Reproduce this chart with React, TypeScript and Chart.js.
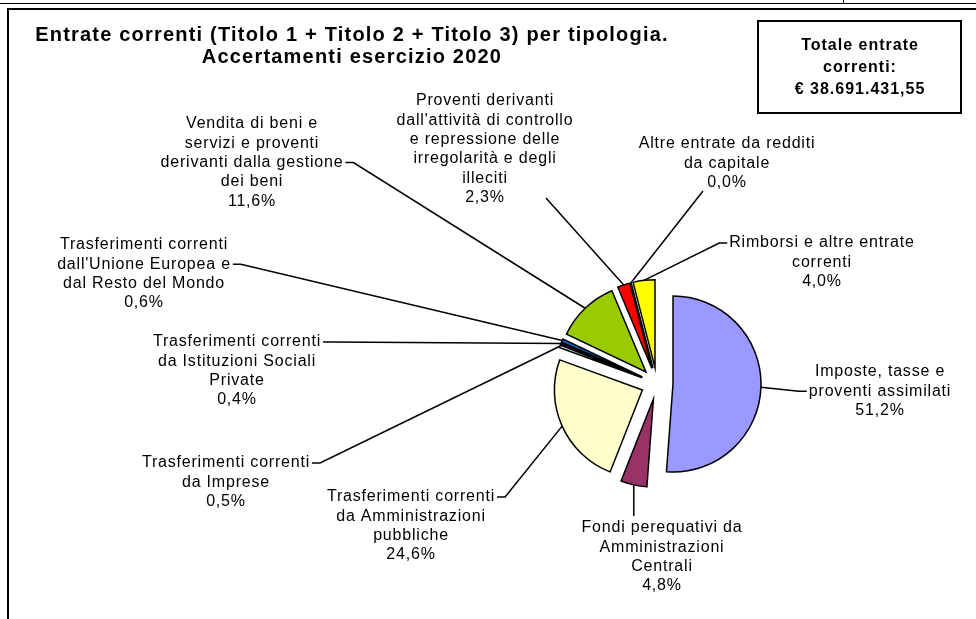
import React, { useEffect, useRef } from "react";
import { Chart, registerables } from "chart.js";

Chart.register(...registerables);

const W = 976;
const H = 619;

// ---- data ----
const categories: string[][] = [
  ["Imposte, tasse e", "proventi assimilati"],
  ["Fondi perequativi da", "Amministrazioni", "Centrali"],
  ["Trasferimenti correnti", "da Amministrazioni", "pubbliche"],
  ["Trasferimenti correnti", "da Imprese"],
  ["Trasferimenti correnti", "da Istituzioni Sociali", "Private"],
  ["Trasferimenti correnti", "dall'Unione Europea e", "dal Resto del Mondo"],
  ["Vendita di beni e", "servizi e proventi", "derivanti dalla gestione", "dei beni"],
  ["Proventi derivanti", "dall'attività di controllo", "e repressione delle", "irregolarità e degli", "illeciti"],
  ["Altre entrate da redditi", "da capitale"],
  ["Rimborsi e altre entrate", "correnti"],
];
const shares = [51.2, 4.8, 24.6, 0.5, 0.4, 0.6, 11.6, 2.3, 0.03, 4.0];
const sliceColors = ["#9999FF", "#993366", "#FFFFCC", "#CCFFFF", "#660066", "#0066CC", "#99CC00", "#FF0000", "#000080", "#FFFF00"];

const titleLines = ["Entrate correnti (Titolo 1 + Titolo 2 + Titolo 3) per tipologia.", "Accertamenti esercizio 2020"];
const totalLines = ["Totale entrate", "correnti:", "€ 38.691.431,55"];

// ---- layout ----
const CENTER = { x: 657, y: 383.5 };
const RADIUS = 88;
const EXPLODE = 16;
const LH = 19.3;
const FONT = '"Liberation Sans", Arial, sans-serif';

type LabelSpec = { x: number; y: number; anchor: "left" | "right" | "top" | "point"; line?: number; px?: number; py?: number };
const labelLayout: LabelSpec[] = [
  { x: 880, y: 372, anchor: "left", line: 1 },
  { x: 662, y: 528, anchor: "top" },
  { x: 411, y: 497, anchor: "right", line: 0 },
  { x: 226, y: 463, anchor: "right", line: 0 },
  { x: 237, y: 342, anchor: "right", line: 0 },
  { x: 144, y: 245, anchor: "right", line: 1 },
  { x: 252, y: 124, anchor: "right", line: 2 },
  { x: 485, y: 101, anchor: "point", px: 546, py: 198 },
  { x: 727, y: 144, anchor: "point", px: 703, py: 191 },
  { x: 822, y: 243, anchor: "left", line: 0 },
];

const fmtPct = (v: number) => v.toFixed(1).replace(".", ",") + "%";

const explodePlugin = {
  id: "explode",
  beforeDatasetDraw(chart: any, args: any) {
    const ctx = chart.ctx;
    args.meta.data.forEach((arc: any) => {
      const mid = (arc.startAngle + arc.endAngle) / 2;
      ctx.save();
      ctx.translate(Math.cos(mid) * EXPLODE, Math.sin(mid) * EXPLODE);
      arc.draw(ctx);
      ctx.restore();
    });
    return false;
  },
};

const decorPlugin = {
  id: "decor",
  beforeDraw(chart: any) {
    const ctx = chart.ctx;
    ctx.save();
    ctx.fillStyle = "#fff";
    ctx.fillRect(0, 0, W, H);
    ctx.strokeStyle = "#000";
    // top page lines
    ctx.lineWidth = 1;
    ctx.beginPath();
    ctx.moveTo(0, 3.5);
    ctx.lineTo(W, 3.5);
    ctx.moveTo(843.5, 0);
    ctx.lineTo(843.5, 3.5);
    ctx.stroke();
    // chart frame
    ctx.lineWidth = 2;
    ctx.beginPath();
    ctx.moveTo(W + 5, 9);
    ctx.lineTo(8, 9);
    ctx.lineTo(8, H + 5);
    ctx.stroke();
    // title
    ctx.fillStyle = "#000";
    ctx.textAlign = "center";
    ctx.textBaseline = "middle";
    ctx.font = `bold 20px ${FONT}`;
    (ctx as any).letterSpacing = "1.2px";
    titleLines.forEach((t, i) => ctx.fillText(t, 352, 35 + i * 22));
    // total box
    ctx.lineWidth = 2;
    ctx.strokeRect(758, 21, 203, 92);
    ctx.font = `bold 16px ${FONT}`;
    (ctx as any).letterSpacing = "1px";
    totalLines.forEach((t, i) => ctx.fillText(t, 860, 46 + i * 22));
    ctx.restore();
  },
  afterDraw(chart: any) {
    const ctx = chart.ctx;
    const meta = chart.getDatasetMeta(0);
    ctx.save();
    ctx.fillStyle = "#000";
    ctx.strokeStyle = "#000";
    ctx.textAlign = "center";
    ctx.textBaseline = "middle";
    ctx.font = `16px ${FONT}`;
    (ctx as any).letterSpacing = "0.8px";
    ctx.lineWidth = 1.5;
    meta.data.forEach((arc: any, i: number) => {
      const spec = labelLayout[i];
      const lines = [...categories[i], fmtPct(shares[i])];
      lines.forEach((t, k) => ctx.fillText(t, spec.x, spec.y + k * LH));
      const mid = (arc.startAngle + arc.endAngle) / 2;
      const r = arc.outerRadius + EXPLODE;
      const ex = arc.x + Math.cos(mid) * r;
      const ey = arc.y + Math.sin(mid) * r;
      ctx.beginPath();
      if (spec.anchor === "top") {
        ctx.moveTo(ex, ey);
        ctx.lineTo(ex, spec.y - 12);
      } else if (spec.anchor === "point") {
        ctx.moveTo(spec.px!, spec.py!);
        ctx.lineTo(ex, ey);
      } else {
        const ln = spec.line || 0;
        const w = ctx.measureText(lines[ln]).width;
        const ly = spec.y + ln * LH;
        if (spec.anchor === "right") {
          const sx = spec.x + w / 2 + 2;
          ctx.moveTo(sx, ly);
          ctx.lineTo(sx + 8, ly);
        } else {
          const sx = spec.x - w / 2 - 2;
          ctx.moveTo(sx, ly);
          ctx.lineTo(sx - 8, ly);
        }
        ctx.lineTo(ex, ey);
      }
      ctx.stroke();
    });
    ctx.restore();
  },
};

export default function App() {
  const ref = useRef<HTMLCanvasElement | null>(null);
  useEffect(() => {
    if (!ref.current) return;
    const half = 150;
    const chart = new Chart(ref.current, {
      type: "pie",
      data: {
        labels: categories.map((c) => c.join(" ")),
        datasets: [
          {
            data: shares,
            backgroundColor: sliceColors,
            borderColor: "#000",
            borderWidth: 1.5,
            borderJoinStyle: "miter",
            radius: RADIUS,
          } as any,
        ],
      },
      options: {
        responsive: false,
        animation: false,
        layout: {
          padding: {
            left: CENTER.x - half,
            right: W - CENTER.x - half,
            top: CENTER.y - half,
            bottom: H - CENTER.y - half,
          },
        },
        plugins: {
          legend: { display: false },
          tooltip: { enabled: false },
          title: { display: false },
        },
        events: [],
      },
      plugins: [decorPlugin, explodePlugin],
    });
    return () => chart.destroy();
  }, []);
  return (
    <div style={{ position: "absolute", left: 0, top: 0, width: W, height: H }}>
      <canvas ref={ref} width={W} height={H} style={{ display: "block", width: W, height: H }} />
    </div>
  );
}
